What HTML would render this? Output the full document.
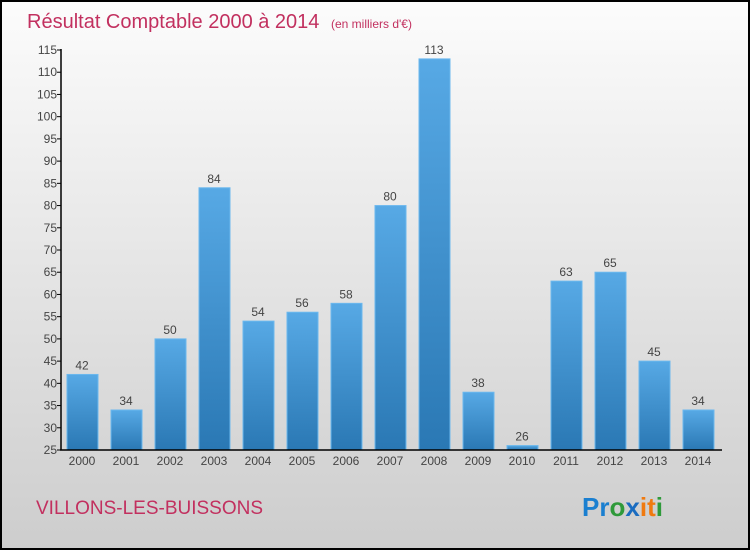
<!DOCTYPE html>
<html><head><meta charset="utf-8"><style>
body{margin:0;width:750px;height:550px;overflow:hidden;font-family:"Liberation Sans",sans-serif}
</style></head><body>
<svg width="750" height="550" xmlns="http://www.w3.org/2000/svg">
<defs>
<linearGradient id="bg" x1="0" y1="0" x2="0" y2="1"><stop offset="0" stop-color="#fcfcfc"/><stop offset="1" stop-color="#cdcdcd"/></linearGradient>
<linearGradient id="bar" x1="0" y1="0" x2="0" y2="1"><stop offset="0" stop-color="#57a9e5"/><stop offset="1" stop-color="#2a78b4"/></linearGradient>
</defs>
<rect x="1" y="1" width="748" height="548" fill="url(#bg)" stroke="#000" stroke-width="2"/>
<text x="27" y="28" font-size="20" fill="#c2305f">Résultat Comptable 2000 à 2014 <tspan font-size="12" dx="6">(en milliers d'€)</tspan></text>
<g id="yaxis"></g>
<g id="bars"></g>
<g id="xaxis"></g>
<text x="36" y="514" font-size="19" fill="#c2305f">VILLONS-LES-BUISSONS</text>
<text x="582" y="516" font-size="26" font-weight="bold"><tspan fill="#1a7fd0">Pr</tspan><tspan fill="#2f9a3a">o</tspan><tspan fill="#1a6cc0">x</tspan><tspan fill="#f07a10">i</tspan><tspan fill="#f07a10">t</tspan><tspan fill="#2f9a3a">i</tspan></text>
</svg>
<script>
const years=["2000","2001","2002","2003","2004","2005","2006","2007","2008","2009","2010","2011","2012","2013","2014"];
const values=[42,34,50,84,54,56,58,80,113,38,26,63,65,45,34];
const yTicks=[25,30,35,40,45,50,55,60,65,70,75,80,85,90,95,100,105,110,115];
const NS="http://www.w3.org/2000/svg";
const y0=450,yTop=50,vMin=25,vMax=115;
const yS=v=>y0-(v-vMin)*(y0-yTop)/(vMax-vMin);
const xS=i=>82+i*44;
function mk(t,a,p,txt){const e=document.createElementNS(NS,t);for(const k in a)e.setAttribute(k,a[k]);if(txt!==undefined)e.textContent=txt;p.appendChild(e);return e;}
const ya=document.getElementById('yaxis'),ba=document.getElementById('bars'),xa=document.getElementById('xaxis');
let l=mk('line',{x1:61,y1:y0,x2:61,y2:yTop-1,stroke:'#000','stroke-width':1.5},ya);


yTicks.forEach(v=>{
 const t=mk('line',{x1:57,x2:61,y1:yS(v),y2:yS(v),stroke:'#000'},ya);
 
 
 const tx=mk('text',{x:57,y:yS(v)+4,'font-size':12,fill:'#444','text-anchor':'end'},ya,v);
 
 
});
values.forEach((v,i)=>{
 const r=mk('rect',{x:xS(i)-15,y:yS(v),width:31,height:y0-yS(v),fill:'url(#bar)',stroke:'#6bb8ee','stroke-width':1},ba);
 
 
 const t=mk('text',{x:xS(i),y:yS(v)-5,'font-size':12,fill:'#444','text-anchor':'middle'},ba,v);
 
 
 const xl=mk('text',{x:xS(i),y:465,'font-size':12,fill:'#444','text-anchor':'middle'},xa,years[i]);
 
 
});
l=mk('line',{x1:60,y1:y0,x2:722,y2:y0,stroke:'#000','stroke-width':1.5},xa);


</script>
</body></html>
